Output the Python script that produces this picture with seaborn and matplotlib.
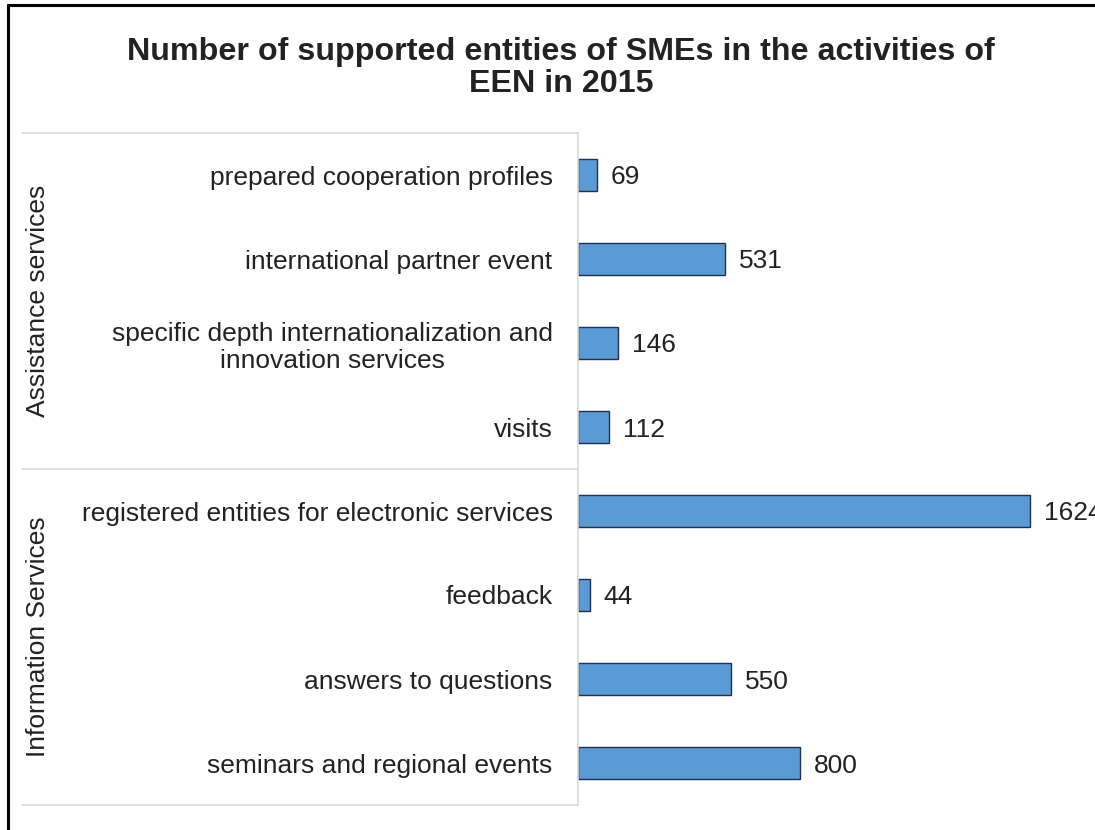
import matplotlib
matplotlib.use("Agg")
import matplotlib.pyplot as plt
from matplotlib.lines import Line2D
import pandas as pd
import seaborn as sns

# Data
groups = ["Assistance services", "Information Services"]
group_sizes = [4, 4]
categories = [
    "prepared cooperation profiles",
    "international partner event",
    "specific depth internationalization and\ninnovation services",
    "visits",
    "registered entities for electronic services",
    "feedback",
    "answers to questions",
    "seminars and regional events",
]
values = [69, 531, 146, 112, 1624, 44, 550, 800]
title = "Number of supported entities of SMEs in the activities of\nEEN in 2015"

df = pd.DataFrame({"category": categories, "value": values})

sns.set_theme(style="white")
plt.rcParams["font.family"] = ["Liberation Sans", "DejaVu Sans"]

text_color = "#222222"
bar_color = "#5B9BD5"
edge_color = "#1F3050"
line_color = "#d9d9d9"

W, H = 1095, 830
fig = plt.figure(figsize=(W / 100, H / 100), dpi=100)
fig.patch.set_facecolor("white")

ax_left, ax_right, ax_top, ax_bottom = 577.5, 1079, 133, 805
ax = fig.add_axes([ax_left / W, 1 - ax_bottom / H,
                   (ax_right - ax_left) / W, (ax_bottom - ax_top) / H])

sns.barplot(data=df, y="category", x="value", order=categories, orient="h",
            color=bar_color, width=0.37, edgecolor=edge_color, linewidth=1.0,
            saturation=1, ax=ax)

ax.set_xlim(0, 1800)
ax.set_ylim(len(categories) - 0.5, -0.5)
ax.set_xlabel("")
ax.set_ylabel("")
ax.set_xticks([])

for side in ["top", "right", "bottom"]:
    ax.spines[side].set_visible(False)
ax.spines["left"].set_color(line_color)
ax.spines["left"].set_linewidth(1.2)

ax.tick_params(axis="y", length=0, pad=18, labelsize=19, labelcolor=text_color)
for lbl in ax.get_yticklabels():
    lbl.set_multialignment("center")

# value labels at bar ends
for container in ax.containers:
    texts = ax.bar_label(container, labels=[str(v) for v in values], padding=10,
                         fontsize=19, color=text_color)
    for t in texts:
        t.set_va("center_baseline")

# group separators and group labels on the category axis
trans = ax.get_yaxis_transform()
sep_x0 = (22 - ax_left) / (ax_right - ax_left)
label_x = (38 - ax_left) / (ax_right - ax_left)
start = -0.5
for name, size in zip(groups, group_sizes):
    ax.add_line(Line2D([sep_x0, 0], [start, start], transform=trans,
                       color=line_color, lw=1.2, clip_on=False))
    ax.text(label_x, start + size / 2, name, transform=trans, rotation=90,
            ha="center", va="center", fontsize=19, color=text_color)
    start += size
ax.add_line(Line2D([sep_x0, 0], [start, start], transform=trans,
                   color=line_color, lw=1.2, clip_on=False))

# title
fig.text(561 / W, 1 - 68 / H, title, ha="center", va="center",
         fontsize=23.2, fontweight="bold", color=text_color, linespacing=1.08)

# chart frame (left and top edges)
fig.add_artist(Line2D([8 / W, 8 / W], [0, 1 - 5 / H], transform=fig.transFigure,
                      color="black", lw=2.2))
fig.add_artist(Line2D([8 / W, 1], [1 - 5 / H, 1 - 5 / H], transform=fig.transFigure,
                      color="black", lw=2.2))

fig.savefig("out.png", dpi=100, facecolor="white")
